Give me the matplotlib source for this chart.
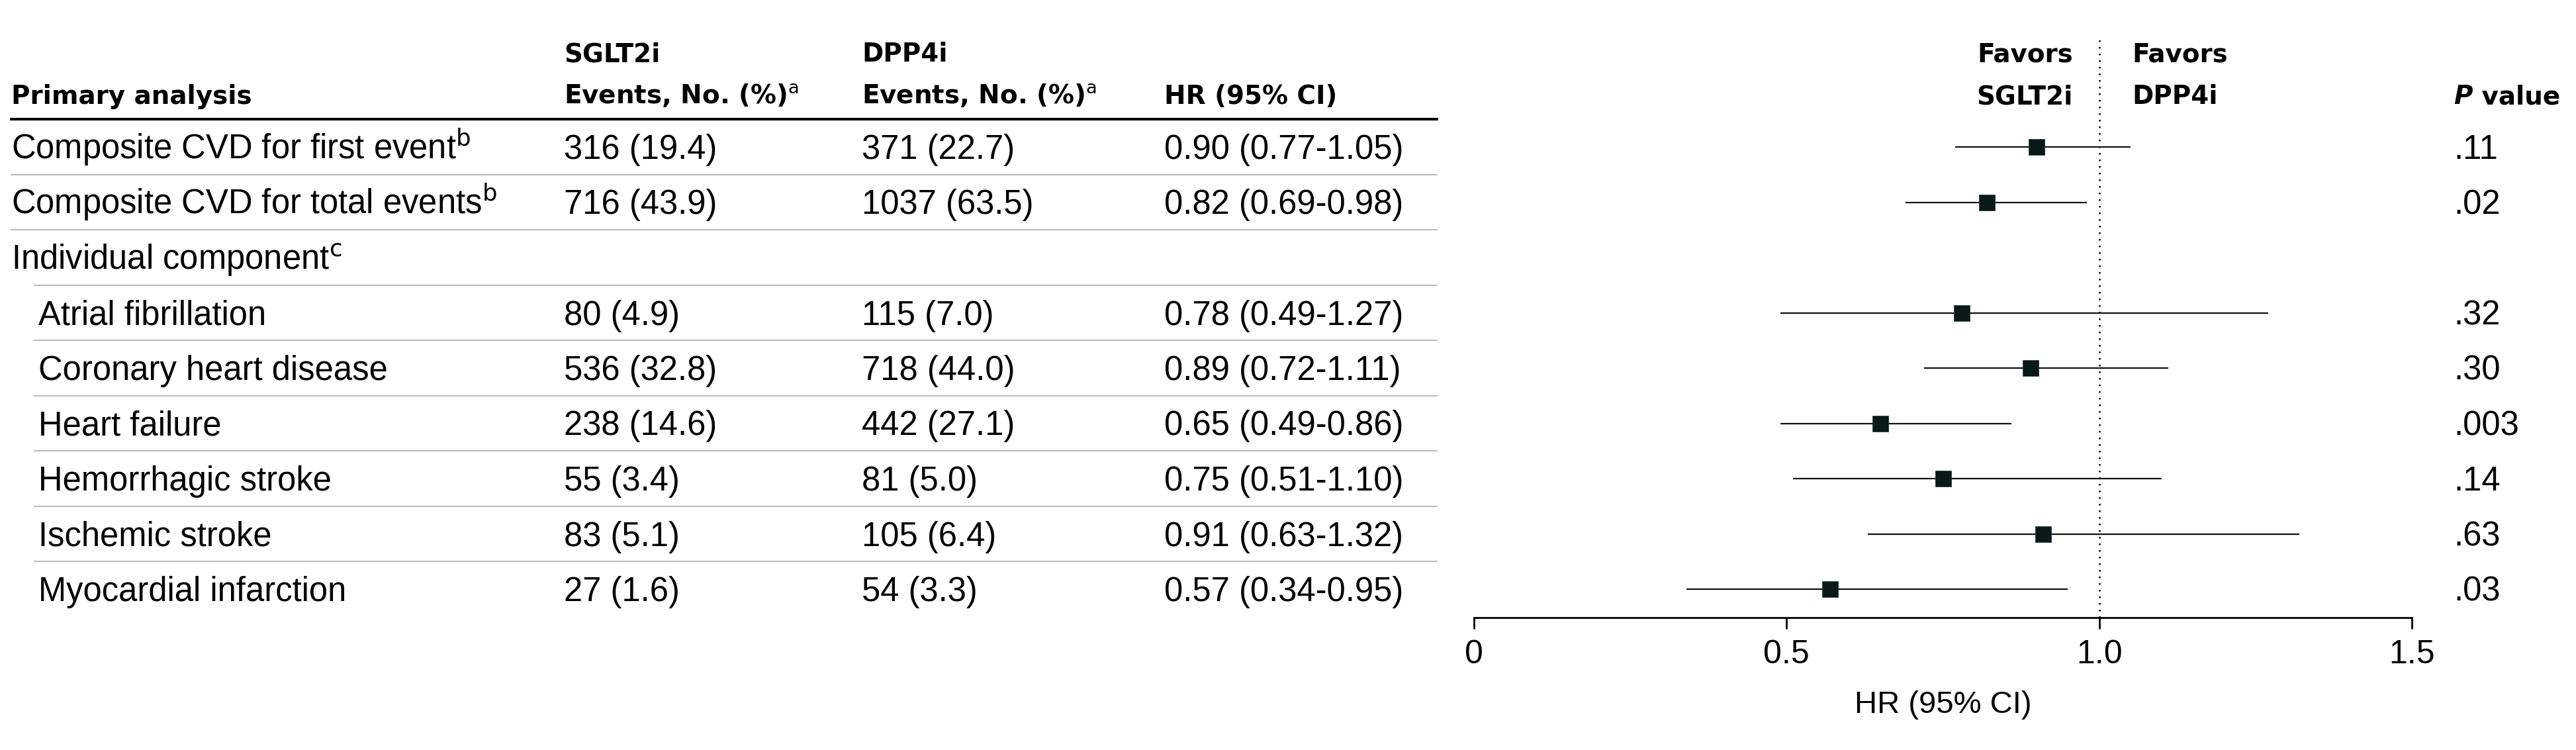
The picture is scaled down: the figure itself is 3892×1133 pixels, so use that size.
"""
Forest plot of SGLT2i vs DPP4i cardiovascular outcomes with a side table.
"""
import numpy as np
import matplotlib.pyplot as plt
from matplotlib.lines import Line2D
from matplotlib.transforms import blended_transform_factory

plt.rcParams['font.family'] = ['Liberation Sans', 'DejaVu Sans']

outcomes = ["Composite CVD for first event", "Composite CVD for total events",
            "Individual component", "Atrial fibrillation", "Coronary heart disease",
            "Heart failure", "Hemorrhagic stroke", "Ischemic stroke",
            "Myocardial infarction"]
footnotes = ["b", "b", "c", "", "", "", "", "", ""]
indented = [False, False, False, True, True, True, True, True, True]
sglt2_events = ["316 (19.4)", "716 (43.9)", "", "80 (4.9)", "536 (32.8)",
                "238 (14.6)", "55 (3.4)", "83 (5.1)", "27 (1.6)"]
dpp4_events = ["371 (22.7)", "1037 (63.5)", "", "115 (7.0)", "718 (44.0)",
               "442 (27.1)", "81 (5.0)", "105 (6.4)", "54 (3.3)"]
hr = np.array([0.90, 0.82, np.nan, 0.78, 0.89, 0.65, 0.75, 0.91, 0.57])
hr_low = np.array([0.77, 0.69, np.nan, 0.49, 0.72, 0.49, 0.51, 0.63, 0.34])
hr_high = np.array([1.05, 0.98, np.nan, 1.27, 1.11, 0.86, 1.10, 1.32, 0.95])
p_values = [".11", ".02", "", ".32", ".30", ".003", ".14", ".63", ".03"]
xticks = [0, 0.5, 1.0, 1.5]
xtick_labels = ["0", "0.5", "1.0", "1.5"]

W, H = 3892, 1133
fig = plt.figure(figsize=(W / 100, H / 100), dpi=100)

# background axes in pixel units for the table
tab = fig.add_axes([0, 0, 1, 1])
tab.set_autoscale_on(False)
tab.set_xlim(0, W)
tab.set_ylim(H, 0)
tab.axis('off')

# forest axes, rows are the y values
row0, pitch = 222, 83.5
ftop, fbot = 53, 933
fx0, fx1 = 2227, 3644
fax = fig.add_axes([fx0 / W, 1 - fbot / H, (fx1 - fx0) / W, (fbot - ftop) / H])
fax.patch.set_visible(False)
fax.set_xlim(0, 1.5)
fax.set_ylim((fbot - row0) / pitch, (ftop - row0) / pitch)

rowtr = blended_transform_factory(tab.transData, fax.transData)
rows = np.arange(len(outcomes))
base = 18 / pitch  # baseline offset from row centre

body = dict(fontsize=36.5, color='black', va='baseline', transform=rowtr)
head = dict(fontsize=28, family='DejaVu Sans', fontweight='bold', color='black',
            va='baseline')

# headers
tab.text(17, 157, "Primary analysis", **head)
tab.text(852, 93, "SGLT2i", **head)
tab.text(852, 157, "Events, No. (%)$^{\\mathrm{a}}$", **head)
tab.text(1302, 93, "DPP4i", **head)
tab.text(1302, 157, "Events, No. (%)$^{\\mathrm{a}}$", **head)
tab.text(1759, 157, "HR (95% CI)", **head)
tab.text(3132, 93, "Favors", ha='right', **head)
tab.text(3132, 157, "SGLT2i", ha='right', **head)
tab.text(3221, 93, "Favors", ha='left', **head)
tab.text(3221, 157, "DPP4i", ha='left', **head)
ptxt = tab.text(3707, 157, "P", fontstyle='italic', **head)
tab.annotate(" value", xy=(1, 0), xycoords=ptxt, fontsize=28, family='DejaVu Sans',
             fontweight='bold', va='bottom', ha='left')

# table rules
tab.add_line(Line2D([17, 2171], [-0.5, -0.5], transform=rowtr, color='black', lw=2.9))
for i in rows[:-1]:
    x0 = 52 if i >= 2 else 17
    tab.add_line(Line2D([x0, 2171], [i + 0.5, i + 0.5], transform=rowtr,
                        color='#bcbcbc', lw=1.5))

# table cells
for i, name in enumerate(outcomes):
    label = name + (f"$^{{\\mathrm{{{footnotes[i]}}}}}$" if footnotes[i] else "")
    tab.text(58 if indented[i] else 17, i + base, label, **body)
    tab.text(852, i + base, sglt2_events[i], **body)
    tab.text(1302, i + base, dpp4_events[i], **body)
    if not np.isnan(hr[i]):
        tab.text(1759, i + base, f"{hr[i]:.2f} ({hr_low[i]:.2f}-{hr_high[i]:.2f})", **body)
    tab.text(3707, i + base, p_values[i], **body)

# forest marks
ok = ~np.isnan(hr)
fax.axvline(1.0, color='black', lw=1.8, ls=(0, (1, 3)), zorder=1)
fax.hlines(rows[ok], hr_low[ok], hr_high[ok], color='#111111', lw=1.6, zorder=2)
fax.plot(hr[ok], rows[ok], 's', ms=17.3, color='#0a1917', mec='#1f3e3a', mew=0.6,
         zorder=3)

fax.set_yticks([])
fax.set_xticks(xticks, xtick_labels)
fax.tick_params(axis='x', direction='out', length=12, width=2, pad=12, labelsize=36)
for s in ['top', 'left', 'right']:
    fax.spines[s].set_visible(False)
fax.spines['bottom'].set_linewidth(2)
fax.set_xlabel("HR (95% CI)", fontsize=34, labelpad=22)

fig.savefig("out.png", dpi=100)
